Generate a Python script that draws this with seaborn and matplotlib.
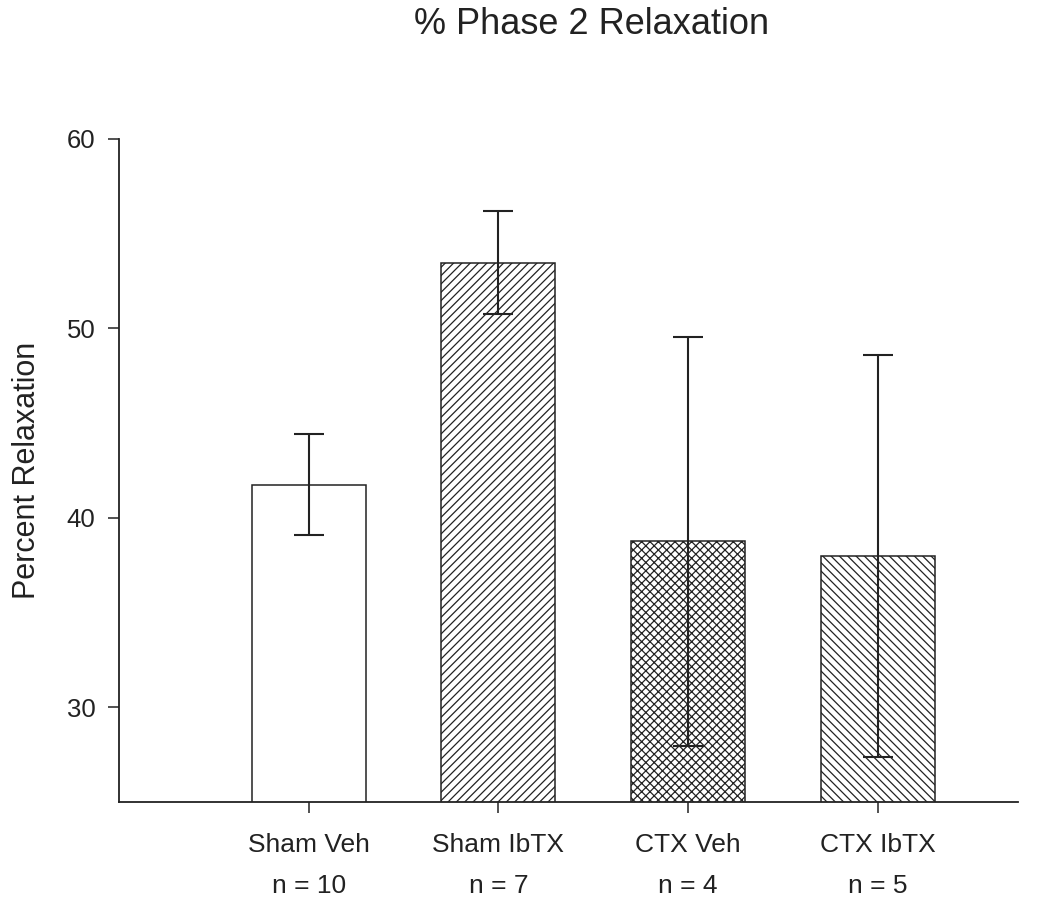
import matplotlib
matplotlib.use("Agg")
import matplotlib.pyplot as plt
import seaborn as sns
import numpy as np

categories = ["Sham Veh", "Sham IbTX", "CTX Veh", "CTX IbTX"]
n_labels = ["n = 10", "n = 7", "n = 4", "n = 5"]
means = [41.75, 53.47, 38.77, 38.0]
errors = [2.68, 2.72, 10.8, 10.6]
hatches = ["", "////", "xxxx", "\\\\\\\\"]

sns.set_theme(style="ticks")
plt.rcParams["font.family"] = ["Liberation Sans", "DejaVu Sans"]
plt.rcParams["hatch.linewidth"] = 0.9
plt.rcParams["hatch.color"] = "#222222"

fig = plt.figure(figsize=(10.6, 8.98), dpi=100)
ax = fig.add_axes([119/1060, 1 - 802/898, (1018-119)/1060, (802-139)/898])

sns.barplot(x=categories, y=means, color="white", edgecolor="#222222",
            linewidth=1.1, width=0.6, ax=ax, saturation=1)
for patch, h in zip(ax.patches, hatches):
    patch.set_hatch(h)
    patch.set_facecolor("white")
    patch.set_edgecolor("#222222")

ax.errorbar(np.arange(len(categories)), means, yerr=errors, fmt="none",
            ecolor="#222222", elinewidth=1.5, capsize=10.5, capthick=1.5)

ax.set_ylim(25, 60)
ax.set_xlim(-1.0, 3.74)
ax.set_yticks([30, 40, 50, 60])
ax.set_xticks(range(len(categories)))
ax.set_xticklabels([f"{c}\n{n}" for c, n in zip(categories, n_labels)],
                   linespacing=1.9)
ax.tick_params(axis="both", colors="#222222", length=8, width=1.1,
               direction="out")
ax.tick_params(axis="x", pad=14, labelsize=19)
ax.tick_params(axis="y", pad=9, labelsize=18.5)
for s in ["top", "right"]:
    ax.spines[s].set_visible(False)
for s in ["left", "bottom"]:
    ax.spines[s].set_linewidth(1.3)
    ax.spines[s].set_color("#222222")
ax.set_ylabel("Percent Relaxation", fontsize=22, color="#222222", labelpad=18)
ax.set_xlabel("")

fig.text(592/1060, 1 - 25/898, "% Phase 2 Relaxation", fontsize=26,
         ha="center", va="center", color="#222222")

fig.savefig("out.png", dpi=100)
